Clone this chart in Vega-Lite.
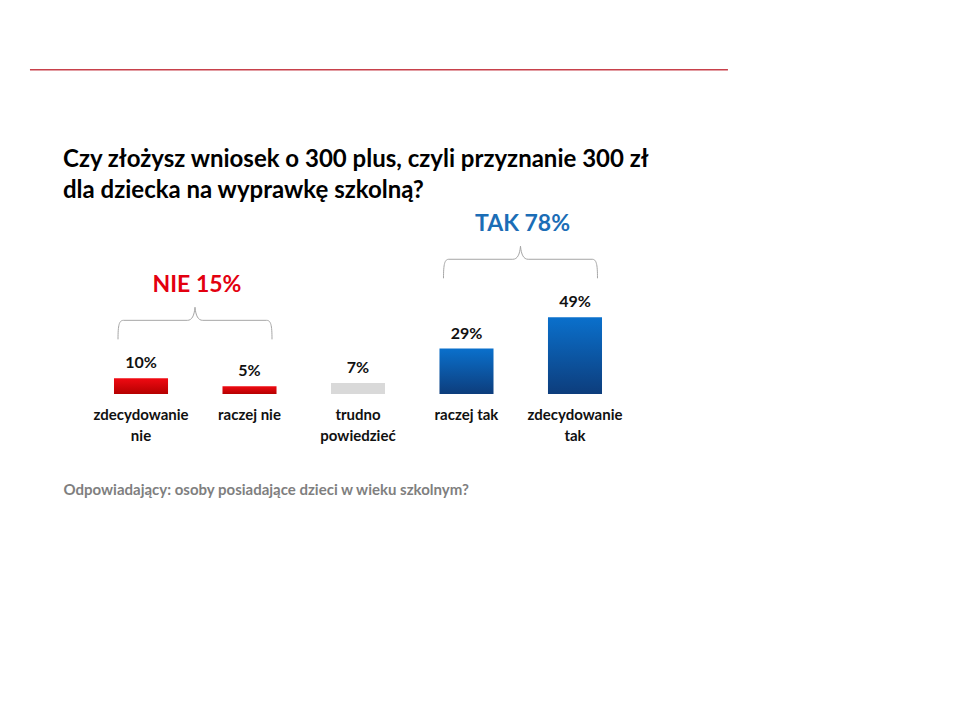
{
  "$schema": "https://vega.github.io/schema/vega-lite/v6.json",
  "autosize": {"type": "none"},
  "width": 590,
  "height": 184,
  "padding": {"left": 63, "top": 210, "right": 307, "bottom": 326},
  "background": "white",
  "title": {
    "text": ["Czy złożysz wniosek o 300 plus, czyli przyznanie 300 zł", "dla dziecka na wyprawkę szkolną?"],
    "anchor": "start",
    "frame": "group",
    "font": "Lato",
    "fontSize": 24,
    "fontWeight": "bold",
    "color": "#000000",
    "lineHeight": 31,
    "baseline": "bottom",
    "offset": -158
  },
  "data": {
    "values": [
      {"category": "zdecydowanie nie", "value": 10, "group": "NIE", "order": 1},
      {"category": "raczej nie", "value": 5, "group": "NIE", "order": 2},
      {"category": "trudno powiedzieć", "value": 7, "group": "trudno", "order": 3},
      {"category": "raczej tak", "value": 29, "group": "TAK", "order": 4},
      {"category": "zdecydowanie tak", "value": 49, "group": "TAK", "order": 5}
    ]
  },
  "layer": [
    {
      "data": {"values": [{"decor": "header"}]},
      "mark": {"type": "rule", "color": "#c8414b", "strokeWidth": 1.5},
      "encoding": {
        "x": {"datum": -0.056, "type": "quantitative", "scale": {"domain": [0, 1], "nice": false, "zero": false}, "axis": null},
        "x2": {"datum": 1.127},
        "y": {"datum": 207, "type": "quantitative", "scale": {"domain": [0, 117.5], "nice": false}, "axis": null}
      }
    },
    {
      "encoding": {
        "x": {
          "field": "category",
          "type": "nominal",
          "sort": null,
          "scale": {
            "domain": ["zdecydowanie nie", "raczej nie", "trudno powiedzieć", "raczej tak", "zdecydowanie tak"],
            "paddingInner": 0.502,
            "paddingOuter": 0.47
          },
          "axis": {
            "title": "Odpowiadający: osoby posiadające dzieci w wieku szkolnym?",
            "titleAnchor": "start",
            "titleAlign": "left",
            "titleFont": "Lato",
            "titleFontSize": 15,
            "titleFontWeight": "bold",
            "titleColor": "#7f7f7f",
            "titlePadding": 39,
            "domain": false,
            "ticks": false,
            "tickSize": 0,
            "grid": false,
            "labelPadding": 25,
            "labelBaseline": "alphabetic",
            "labelFont": "Lato",
            "labelFontSize": 15,
            "labelFontWeight": "bold",
            "labelColor": "#111111",
            "labelLineHeight": 21,
            "labelAngle": 0,
            "labelOverlap": false,
            "labelLimit": 0,
            "labelExpr": "length(datum.label) > 12 ? split(datum.label, ' ') : datum.label"
          }
        }
      },
      "layer": [
        {
          "mark": {"type": "bar"},
          "encoding": {
            "y": {"field": "value", "type": "quantitative", "scale": {"domain": [0, 117.5], "nice": false}, "axis": null},
            "color": {
              "condition": [
                {"test": "datum.group === 'NIE'", "value": {"gradient": "linear", "x1": 0, "y1": 0, "x2": 0, "y2": 1, "stops": [{"offset": 0, "color": "#f00a12"}, {"offset": 1, "color": "#b50000"}]}},
                {"test": "datum.group === 'TAK'", "value": {"gradient": "linear", "x1": 0, "y1": 0, "x2": 0, "y2": 1, "stops": [{"offset": 0, "color": "#0a70cc"}, {"offset": 1, "color": "#0d3d7c"}]}}
              ],
              "value": "#d9d9d9"
            }
          }
        },
        {
          "transform": [{"calculate": "datum.value + '%'", "as": "pct"}],
          "mark": {"type": "text", "font": "Lato", "fontWeight": "bold", "fontSize": 16, "baseline": "alphabetic", "dy": -10, "color": "#111111"},
          "encoding": {
            "y": {"field": "value", "type": "quantitative", "axis": null},
            "text": {"field": "pct"}
          }
        },
        {
          "transform": [
            {"joinaggregate": [{"op": "max", "field": "value", "as": "maxv"}, {"op": "min", "field": "order", "as": "firstorder"}, {"op": "sum", "field": "value", "as": "total"}], "groupby": ["group"]},
            {"filter": "datum.group !== 'trudno' && datum.order === datum.firstorder"}
          ],
          "mark": {
            "type": "point",
            "shape": "M -1 0.247 C -1 0.06 -0.985 0 -0.93 0 L -0.1 0 C -0.04 0 -0.01 -0.06 0 -0.17 C 0.01 -0.06 0.04 0 0.1 0 L 0.93 0 C 0.985 0 1 0.06 1 0.247",
            "size": 23716,
            "filled": false,
            "color": "#a6a6a6",
            "strokeWidth": 1,
            "opacity": 1,
            "xOffset": 54,
            "yOffset": -58
          },
          "encoding": {
            "y": {"field": "maxv", "type": "quantitative", "axis": null}
          }
        },
        {
          "transform": [
            {"joinaggregate": [{"op": "max", "field": "value", "as": "maxv"}, {"op": "min", "field": "order", "as": "firstorder"}, {"op": "sum", "field": "value", "as": "total"}], "groupby": ["group"]},
            {"filter": "datum.group !== 'trudno' && datum.order === datum.firstorder"},
            {"calculate": "datum.group + ' ' + datum.total + '%'", "as": "grouplabel"}
          ],
          "mark": {"type": "text", "font": "Lato", "fontWeight": "bold", "fontSize": 23, "baseline": "alphabetic", "dy": -86, "xOffset": 56},
          "encoding": {
            "y": {"field": "maxv", "type": "quantitative", "axis": null},
            "text": {"field": "grouplabel"},
            "color": {
              "condition": {"test": "datum.group === 'NIE'", "value": "#e3000f"},
              "value": "#1b6db6"
            }
          }
        }
      ]
    }
  ],
  "resolve": {"scale": {"x": "independent"}},
  "config": {"view": {"stroke": null}}
}
